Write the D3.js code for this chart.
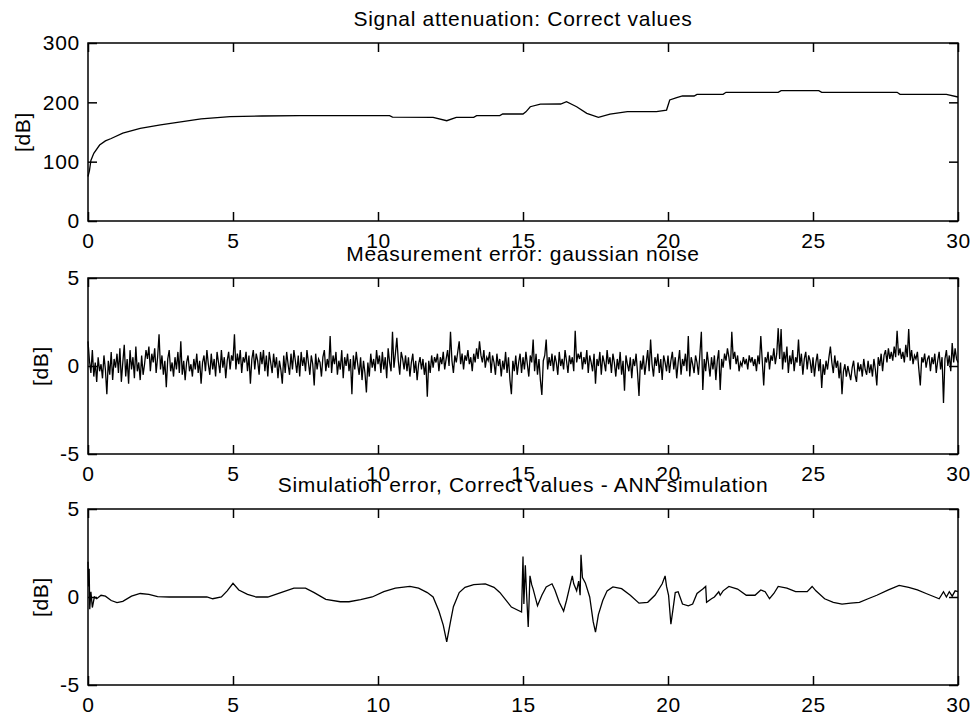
<!DOCTYPE html>
<html>
<head>
<meta charset="utf-8">
<style>
  body { margin: 0; background: #fff; }
  svg text { font-family: "Liberation Sans", Arial, sans-serif; font-size: 21px; letter-spacing: 0.7px; fill: #000; }
</style>
</head>
<body>
<script src="https://cdn.jsdelivr.net/npm/d3@7"></script>
<script type="text/javascript">
    // x ticks shared by all three panels
    var xTicks = [0, 5, 10, 15, 20, 25, 30];

    // panel 1: signal attenuation [dB] (x, y pairs)
    var attX = [0, 0.05, 0.1, 0.2, 0.4, 0.6, 0.8, 1.2, 1.8, 2.5, 3.2, 3.9, 4.9, 6.0, 7.3, 10.4, 10.5, 11.9, 12.37, 12.7,
        13.3, 13.4, 14.2, 14.3, 15.0, 15.1, 15.25, 15.6, 16.3, 16.5, 16.85, 17.2, 17.6, 18.0, 18.6, 19.6, 19.95, 20.06, 20.3, 20.5,
        20.9, 21.0, 21.9, 22.0, 23.8, 23.9, 25.2, 25.3, 27.9, 28.0, 29.6, 30];
    var attY = [75, 85, 102, 114, 128, 135, 139, 148, 156, 162, 167, 172, 176, 177, 177.5, 177.5, 175, 174.7, 169, 174.7,
        174.7, 177.5, 177.5, 180.3, 180.3, 184, 192.6, 197, 197.2, 201, 192.6, 181.5, 174.7, 180.3, 184.3, 184.3, 187, 204, 207.8, 210.7,
        210.7, 213.5, 213.5, 216.9, 216.9, 219.7, 219.7, 216.9, 216.9, 213.5, 213.5, 209];
    var attTicks = [0, 100, 200, 300];

    // panel 2: gaussian noise, one value every 0.05 from 0 to 30
    var noiseStep = 0.05;
    var noise = [
        1.4, 0.3, -0.4, 0.9, -0.6, 0.2, -0.9, 0.5, -0.3, 0.1, -0.7, 0.6, -0.2, -1.6, 0.3, -0.5, 0.8, -0.8, 0.4, -0.1,
        0.7, -0.4, 1.0, -0.9, 0.2, 1.2, -0.6, 0.4, -1.0, 0.9, -0.2, 0.5, -0.7, 1.1, -0.3, 0.2, -0.8, 0.6, -0.5, 0.1,
        0.9, 0.4, 1.1, -0.3, 0.7, 0.2, 1.0, -0.4, 0.5, 1.8, -0.2, 0.6, -0.5, 0.3, -1.2, 0.4, 0.9, -0.3, 0.2, -0.6,
        0.5, -0.2, 0.8, -0.4, 1.4, -0.5, 0.3, -0.8, 0.2, 0.6, -0.3, 0.1, -0.6, 0.4, -0.2, 0.7, -0.4, 0.3, -1.0, 0.2,
        0.6, -0.3, 0.9, 0.1, -0.5, 0.7, -0.2, 0.4, -0.6, 0.8, 0.2, -0.4, 0.9, -0.1, 0.5, -0.7, 0.3, 0.8, -0.2, 0.6,
        0.3, 1.8, -0.2, 0.7, 0.1, 0.9, -0.4, 0.5, 0.2, 0.8, -0.3, 0.6, -1.0, 0.4, 0.9, -0.2, 0.7, 0.3, -0.5, 0.8,
        0.1, 0.9, -0.3, 0.6, -0.6, 0.8, 0.2, -0.4, 0.7, -0.1, 0.5, -0.7, 0.3, -0.2, -1.0, 0.6, -0.4, 0.8, 0.1, -0.5,
        0.7, -0.2, 0.9, 0.3, -0.4, 0.6, -0.6, 0.8, 0.0, 0.5, -0.3, 0.9, 0.2, -0.5, 0.6, 0.1, -1.1, 0.7, -0.2, 0.4,
        0.2, -0.6, 0.5, 0.9, -0.3, 0.4, -0.1, 1.7, -0.4, 0.6, 0.1, 0.8, -0.5, 0.3, -0.2, 0.9, -0.7, 0.5, 0.0, 0.7,
        -0.3, 0.4, -1.6, 0.6, -0.2, 0.8, 0.1, -0.5, 0.5, -0.8, 0.3, -0.4, -1.5, 0.2, -0.6, 0.7, -0.1, 0.4, -0.3, 0.9,
        0.1, 0.6, -0.4, 0.8, -0.2, 0.5, -0.7, 1.0, 0.2, -0.3, 1.95, -0.1, 0.7, 1.6, 0.3, -0.5, 0.8, 0.4, -0.2, 0.6,
        -0.3, 0.5, -0.6, 0.2, 0.7, -0.4, 0.3, -0.8, 0.1, 0.5, -0.2, 0.4, -0.5, 0.2, -1.75, 0.3, -0.4, 0.6, -0.1, 0.5,
        0.2, 0.7, -0.3, 0.5, 0.1, 0.8, -0.2, 0.4, 0.9, 0.0, 1.95, 0.3, -0.4, 0.6, 0.2, 0.8, 1.4, 0.1, 0.7, -0.2,
        0.6, 0.3, 0.9, 0.1, 0.5, -0.3, 0.7, 0.2, 1.0, 0.4, 1.4, 0.6, 0.2, 0.9, -0.1, 0.5, 0.3, 0.8, -0.4, 0.6,
        0.2, -0.5, 0.7, 0.0, 0.4, -0.6, 0.3, -0.2, 0.8, -0.4, 0.5, -0.8, -1.6, 0.3, -0.3, 0.6, -0.5, 0.2, 0.7, -0.4,
        0.5, -0.2, 0.8, 0.1, -0.6, 0.6, 0.2, 1.5, -0.3, 0.7, -0.5, 0.4, -0.8, -1.65, 0.3, 0.6, 1.5, -0.2, 0.5, 0.0,
        0.7, -0.3, 0.6, 0.2, -0.5, 0.8, 0.0, 0.4, -0.2, 0.9, 0.3, -0.4, 0.6, 0.1, 0.5, -0.3, 2.0, 0.2, 0.7, 0.4,
        0.8, -0.2, 0.5, 0.1, 0.9, -0.4, 0.6, 0.2, -0.3, 0.7, -1.0, 0.4, 0.0, 0.8, -0.5, 0.6, 0.2, -0.3, 0.9, 0.1,
        0.5, -0.4, 0.7, 0.2, -0.6, 0.4, -0.2, 0.8, -0.5, 0.3, -1.4, 0.6, 0.1, -0.3, 0.5, -0.7, 0.4, 0.0, 0.7, -0.4,
        -1.7, 0.3, -0.2, 0.6, -0.5, 0.2, 0.9, -0.3, 1.5, 0.1, -0.6, 0.5, 0.0, 0.7, -0.4, 0.4, -0.8, 0.6, 0.2, -0.3,
        0.6, -0.4, 0.3, 0.8, -0.2, 0.5, -0.7, 0.2, 0.9, -0.5, 0.4, 0.0, 0.7, -0.3, 1.7, -0.6, 0.5, 0.1, -0.4, 0.6,
        0.2, -0.5, 0.7, 1.95, -1.36, 0.4, -0.3, 0.8, 0.1, -0.6, 0.5, -0.2, 0.6, -0.8, 0.3, 0.9, -1.36, 0.4, -0.1, 0.7,
        0.3, 1.0, 0.5, -0.2, 1.95, 0.4, 0.8, 0.1, 0.6, -0.3, 0.2, 0.0, 0.5, 0.1, 0.4, -0.2, 0.6, 0.2, 0.5, 0.0,
        0.4, -0.3, 0.6, 0.1, 1.7, 0.3, -1.1, 0.5, 0.2, 0.8, -0.2, 0.6, 0.3, 1.0, 0.1, 0.7, 2.15, 0.4, 2.1, -0.2,
        0.8, 0.2, 1.1, -0.4, 0.6, 0.1, 0.9, -0.3, 0.5, 0.2, 1.5, 0.0, 0.7, -0.5, 0.4, 0.8, -0.2, 0.6, 0.3, -0.4,
        0.5, -0.6, 0.2, 0.7, -0.3, 0.4, -1.25, 0.1, -0.5, 0.3, -0.2, 0.5, 1.1, 0.2, -0.4, 0.6, -0.1, 0.3, -0.7, 0.2,
        -1.6, -0.3, 0.1, -0.6, 0.0, -0.4, -0.8, -0.1, 0.3, -0.5, -0.9, 0.2, -0.3, 0.1, -0.6, 0.4, -0.2, -0.5, 0.3, -0.4,
        0.1, -0.6, 0.4, -0.2, -1.1, 0.5, 0.0, 0.7, -0.3, 0.6, 0.9, 0.2, 1.0, 0.4, 0.8, 0.3, 1.1, 0.5, 2.0, 0.6,
        1.0, 0.4, 0.8, 0.2, 1.2, 0.5, 2.1, 0.3, 0.9, 0.1, 0.6, 0.4, 0.8, -0.2, -1.1, 0.5, 0.2, 0.7, -0.1, 0.4,
        0.6, -0.3, 0.5, 0.1, 0.7, -0.4, 0.3, 0.8, -0.2, 0.5, -2.1, 0.4, 0.9, 0.0, 0.6, -0.3, 1.3, 0.2, 1.0, 0.4,
        0.2
    ];

    // panel 3: simulation error (correct - ANN) [dB]
    var simX = [0, 0.02, 0.04, 0.06, 0.1, 0.15, 0.22, 0.3, 0.45, 0.6, 0.8, 1.0, 1.2, 1.5, 1.8, 2.1, 2.4, 2.8, 3.5, 4.1,
        4.3, 4.6, 4.8, 5.0, 5.2, 5.5, 5.8, 6.2, 6.6, 7.1, 7.5, 7.8, 8.2, 8.7, 9.0, 9.4, 9.8, 10.2, 10.6, 11.1,
        11.4, 11.7, 11.9, 12.1, 12.25, 12.37, 12.5, 12.6, 12.8, 13.0, 13.3, 13.7, 14.0, 14.2, 14.6, 14.95, 15.0, 15.03, 15.08, 15.12,
        15.18, 15.24, 15.3, 15.35, 15.5, 15.65, 15.8, 16.0, 16.1, 16.25, 16.4, 16.5, 16.6, 16.7, 16.75, 16.85, 16.92, 16.97, 17.0, 17.05,
        17.15, 17.3, 17.42, 17.5, 17.6, 17.75, 17.9, 18.1, 18.4, 18.7, 19.0, 19.3, 19.55, 19.8, 19.9, 19.95, 20.02, 20.1, 20.18, 20.25,
        20.35, 20.5, 20.7, 20.85, 21.0, 21.2, 21.3, 21.33, 21.5, 21.6, 21.75, 21.8, 21.9, 22.1, 22.4, 22.7, 23.0, 23.2, 23.35, 23.5,
        23.65, 23.8, 24.1, 24.4, 24.8, 24.97, 25.1, 25.4, 25.7, 26.0, 26.3, 26.6, 26.9, 27.2, 27.6, 27.97, 28.3, 28.6, 28.9, 29.2,
        29.35, 29.5, 29.6, 29.7, 29.8, 29.9, 30.0];
    var simY = [2.0, 0.6, 1.6, -0.7, 0.3, -0.6, 0.0, -0.1, 0.1, 0.05, -0.2, -0.32, -0.25, 0.05, 0.2, 0.15, 0.02, 0.0, 0.0, 0.0,
        -0.1, 0.0, 0.35, 0.78, 0.4, 0.15, 0.0, 0.0, 0.22, 0.5, 0.5, 0.25, -0.13, -0.27, -0.27, -0.15, 0.0, 0.3, 0.5, 0.6,
        0.5, 0.25, 0.0, -0.8, -1.6, -2.55, -1.4, -0.55, 0.25, 0.55, 0.7, 0.75, 0.55, 0.26, -0.57, -0.85, 2.3, -0.4, 1.8, 0.3,
        -1.7, 1.2, 0.7, 0.45, -0.5, 0.1, 0.57, 0.75, 0.4, -0.3, -0.8, -0.2, 0.5, 1.2, 0.75, 0.35, 0.9, 0.1, 2.4, 1.1,
        0.8, 0.0, -1.4, -2.0, -1.0, -0.2, 0.35, 0.57, 0.47, 0.1, -0.35, -0.3, 0.1, 0.75, 1.2, 0.6, 0.1, -1.55, -0.6, 0.25,
        0.3, -0.4, -0.5, -0.4, 0.2, 0.45, 0.6, -0.3, -0.1, 0.0, 0.3, 0.1, 0.35, 0.6, 0.45, 0.1, 0.1, 0.4, 0.3, -0.1,
        0.2, 0.6, 0.5, 0.3, 0.3, 0.6, 0.35, -0.1, -0.3, -0.4, -0.35, -0.3, -0.1, 0.1, 0.4, 0.66, 0.55, 0.4, 0.2, 0.0,
        -0.1, 0.3, 0.0, 0.3, 0.05, 0.35, 0.3];

    var errTicks = [-5, 0, 5];

    var svgWidth = 972,
        svgHeight = 716;
    var svg = d3.select('body')
        .append('svg')
        .attr('width', svgWidth)
        .attr('height', svgHeight);

    var left = 88, right = 958;
    var tickLen = 9;
    // matlab prints a plain hyphen, not the unicode minus d3 uses
    var plain = function (d) { return String(d); };

    var x = d3.scaleLinear().domain([0, 30]).range([left, right]);

    var panels = [
        { title: 'Signal attenuation: Correct values', top: 43, bottom: 221, domain: [0, 300], ticks: attTicks, labelX: 23,
          pts: attX.map(function (v, i) { return [v, attY[i]]; }) },
        { title: 'Measurement error: gaussian noise', top: 278, bottom: 454, domain: [-5, 5], ticks: errTicks, labelX: 41,
          pts: noise.map(function (v, i) { return [i * noiseStep, v]; }) },
        { title: 'Simulation error, Correct values - ANN simulation', top: 509, bottom: 685, domain: [-5, 5], ticks: errTicks, labelX: 41,
          pts: simX.map(function (v, i) { return [v, simY[i]]; }) }
    ];

    panels.forEach(function (p) {
        var y = d3.scaleLinear().domain(p.domain).range([p.bottom, p.top]);
        var g = svg.append('g');

        // data line first, the box goes over it
        var line = d3.line()
            .x(function (d) { return x(d[0]); })
            .y(function (d) { return y(d[1]); });
        g.append('path')
            .datum(p.pts)
            .attr('d', line)
            .attr('fill', 'none')
            .attr('stroke', '#000')
            .attr('stroke-width', 1.3);

        var bottomAxis = d3.axisBottom(x).tickValues(xTicks).tickSizeInner(-tickLen).tickSizeOuter(0).tickPadding(12).tickFormat(plain);
        var topAxis = d3.axisTop(x).tickValues(xTicks).tickSizeInner(-tickLen).tickSizeOuter(0).tickFormat('');
        var leftAxis = d3.axisLeft(y).tickValues(p.ticks).tickSizeInner(-tickLen).tickSizeOuter(0).tickPadding(8).tickFormat(plain);
        var rightAxis = d3.axisRight(y).tickValues(p.ticks).tickSizeInner(-tickLen).tickSizeOuter(0).tickFormat('');

        var axes = [
            g.append('g').attr('transform', 'translate(0,' + p.bottom + ')').call(bottomAxis),
            g.append('g').attr('transform', 'translate(0,' + p.top + ')').call(topAxis),
            g.append('g').attr('transform', 'translate(' + left + ',0)').call(leftAxis),
            g.append('g').attr('transform', 'translate(' + right + ',0)').call(rightAxis)
        ];
        axes.forEach(function (a) {
            a.select('.domain').remove();
            a.selectAll('line').attr('stroke', '#000').attr('stroke-width', 1.5);
            a.selectAll('text').attr('font-family', null).attr('font-size', null);
        });

        g.append('rect')
            .attr('x', left)
            .attr('y', p.top)
            .attr('width', right - left)
            .attr('height', p.bottom - p.top)
            .attr('fill', 'none')
            .attr('stroke', '#000')
            .attr('stroke-width', 1.5);

        g.append('text')
            .attr('x', (left + right) / 2)
            .attr('y', p.top - 17)
            .attr('text-anchor', 'middle')
            .text(p.title);

        g.append('text')
            .attr('transform', 'translate(' + p.labelX + ',' + ((p.top + p.bottom) / 2) + ') rotate(-90)')
            .attr('text-anchor', 'middle')
            .attr('dy', '0.35em')
            .text('[dB]');
    });
</script>
</body>
</html>
